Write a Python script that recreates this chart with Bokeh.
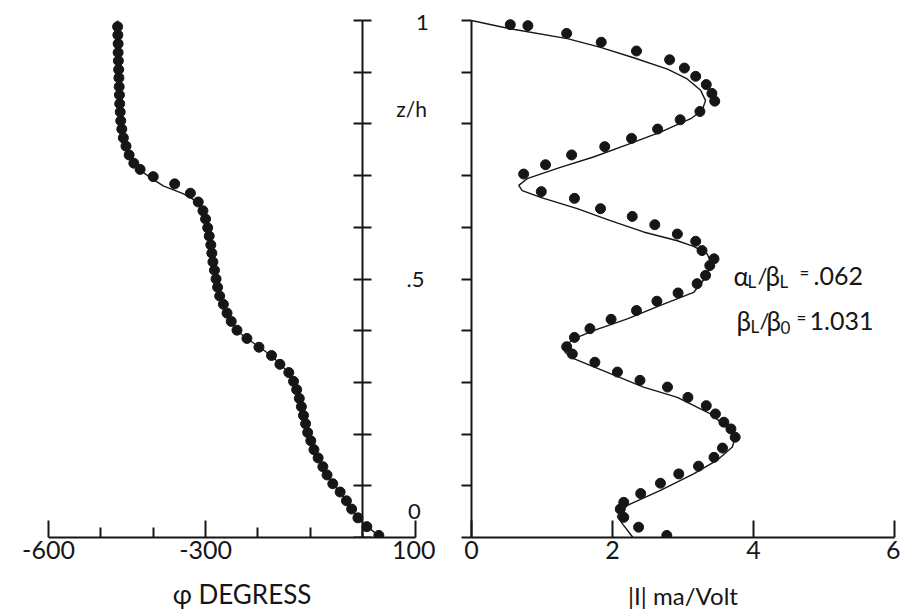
from bokeh.plotting import figure
from bokeh.models import Range1d, LinearAxis, FixedTicker, ColumnDataSource
from bokeh.layouts import row
from bokeh.embed import file_html
from bokeh.resources import INLINE
from bokeh.core.properties import value

# ---------------- data ----------------
# left panel: phase (degrees) versus z/h
phase_dot_z = [0.988, 0.972, 0.955, 0.938, 0.922, 0.905, 0.889, 0.872, 0.856, 0.839,
               0.823, 0.806, 0.790, 0.773, 0.757, 0.740, 0.724, 0.712, 0.698, 0.684,
               0.666, 0.649, 0.632, 0.616, 0.599, 0.583, 0.566, 0.550, 0.533, 0.517,
               0.500, 0.484, 0.467, 0.451, 0.434, 0.418, 0.401, 0.385, 0.368, 0.352,
               0.335, 0.319, 0.302, 0.286, 0.269, 0.253, 0.236, 0.220, 0.203, 0.187,
               0.170, 0.154, 0.137, 0.121, 0.104, 0.088, 0.071, 0.055, 0.038, 0.021,
               0.004]
phase_dot_deg = [-468, -467.5, -467, -467, -466.5, -466, -465.5, -465, -464.5, -464,
                 -463, -462, -460, -457, -452, -446, -437, -425, -400, -359,
                 -329, -314, -305, -300, -296, -293, -290, -288, -286, -283,
                 -280, -277, -273, -266, -259, -251, -240, -221, -198, -174,
                 -158, -141, -132, -126, -121, -117, -113, -109, -105, -99,
                 -93, -85, -76, -68, -57, -43, -31, -21, -9, 8,
                 31]
phase_curve_z = [1.0, 0.95, 0.88, 0.82, 0.79, 0.765, 0.745, 0.727, 0.710, 0.696,
                 0.680, 0.672, 0.665, 0.655, 0.645, 0.630, 0.607, 0.581, 0.555, 0.529,
                 0.504, 0.478, 0.455, 0.439, 0.420, 0.400, 0.384, 0.369, 0.352, 0.336,
                 0.317, 0.297, 0.278, 0.255, 0.226, 0.201, 0.175, 0.149, 0.123, 0.104,
                 0.085, 0.056, 0.033, 0.020, 0.0]
phase_curve_deg = [-468, -467, -465, -463, -460, -455, -447, -438, -425, -405,
                   -381, -360, -343, -325, -314, -305, -298, -293, -289, -285.5,
                   -280, -276, -270, -263, -254, -240, -220, -198, -175, -158,
                   -140, -130, -123, -117, -110, -104, -95, -82, -69, -57,
                   -41, -22, -5, 10, 35]

# right panel: |I| (ma/Volt) versus z/h
amp_dot_z = [0.992, 0.990, 0.975, 0.958, 0.941, 0.924, 0.908, 0.892, 0.876, 0.859,
             0.844, 0.824, 0.808, 0.790, 0.772, 0.756, 0.740, 0.721, 0.703, 0.669,
             0.656, 0.636, 0.621, 0.605, 0.587, 0.573, 0.555, 0.539, 0.526, 0.507,
             0.491, 0.473, 0.457, 0.439, 0.422, 0.404, 0.387, 0.369, 0.355, 0.339,
             0.320, 0.304, 0.291, 0.271, 0.255, 0.239, 0.223, 0.210, 0.194, 0.173,
             0.155, 0.138, 0.123, 0.105, 0.085, 0.068, 0.055, 0.039, 0.020, 0.004]
amp_dot_I = [0.55, 0.80, 1.35, 1.84, 2.34, 2.81, 3.02, 3.18, 3.33, 3.41,
             3.45, 3.24, 2.96, 2.64, 2.27, 1.89, 1.42, 1.05, 0.74, 0.99,
             1.46, 1.83, 2.28, 2.60, 2.92, 3.18, 3.27, 3.44, 3.38, 3.32,
             3.20, 2.93, 2.63, 2.34, 1.98, 1.68, 1.46, 1.35, 1.43, 1.75,
             2.07, 2.39, 2.78, 3.07, 3.33, 3.46, 3.58, 3.68, 3.74, 3.56,
             3.44, 3.22, 2.94, 2.68, 2.40, 2.16, 2.11, 2.16, 2.37, 2.77]
amp_curve_z = [1.0, 0.984, 0.965, 0.948, 0.928, 0.906, 0.887, 0.865, 0.845, 0.826,
               0.810, 0.784, 0.760, 0.736, 0.716, 0.694, 0.681, 0.671, 0.658, 0.636,
               0.613, 0.591, 0.574, 0.563, 0.549, 0.529, 0.503, 0.474, 0.449, 0.423,
               0.400, 0.384, 0.369, 0.358, 0.346, 0.317, 0.291, 0.271, 0.239, 0.213,
               0.194, 0.175, 0.149, 0.123, 0.091, 0.062, 0.055, 0.048, 0.040, 0.025,
               0.0]
amp_curve_I = [0.0, 0.55, 1.36, 1.83, 2.30, 2.78, 3.06, 3.25, 3.32, 3.27,
               3.11, 2.68, 2.21, 1.73, 1.26, 0.79, 0.67, 0.72, 0.98, 1.50,
               1.97, 2.44, 2.92, 3.15, 3.34, 3.41, 3.32, 3.15, 2.68, 2.21,
               1.73, 1.45, 1.31, 1.33, 1.45, 1.97, 2.44, 2.92, 3.39, 3.63,
               3.74, 3.70, 3.48, 3.15, 2.68, 2.21, 2.16, 2.10, 2.07, 2.15,
               2.29]

# axes / ticks / texts
phase_ticks = [-600, -300, 100]
phase_tick_labels = ["-600", "-300", "100"]
phase_minor_ticks = [-500, -400, -200, -100, 0]
amp_ticks = [0, 2, 4, 6]
zh_ticks = [i / 10 for i in range(11)]
zh_tick_labels = ["1", ".5", "0"]
phase_title = "\u03c6 DEGRESS"
amp_title = "|I| ma/Volt"
zh_title = "z/h"

# ---------------- layout (pixels of the picture) ----------------
FONT = "Lato"
INK = "#161616"
ORIGIN = 0                       # the figure row is drawn from the picture's corner
TOTAL_W, FIG_H = 900, 612
SPLIT = 435                      # x where the right figure starts
X_PHI_A, X_PHI_B = 48, 414.5     # x of phase -600 and 100
X_I0, X_I6 = 471, 894            # x of |I| 0 and 6
Y_Z0, Y_Z1 = 537, 20             # y of z/h 0 and 1
FRAME_TOP = ORIGIN

deg_px = (X_PHI_B - X_PHI_A) / (phase_ticks[-1] - phase_ticks[0])
z_px = Y_Z0 - Y_Z1
y_end = (Y_Z0 - FRAME_TOP) / z_px


def phi_at(px):
    return phase_ticks[0] + (px - X_PHI_A) / deg_px


def z_at(py):
    return (Y_Z0 - py) / z_px


def i_at(px):
    return (px - X_I0) * (amp_ticks[-1] - amp_ticks[0]) / (X_I6 - X_I0)


def base(fig):
    fig.grid.visible = False
    fig.outline_line_color = None
    fig.background_fill_color = "white"
    fig.border_fill_color = "white"


def style_axis(ax, label_size="25px"):
    ax.axis_line_color = INK
    ax.axis_line_width = 2
    ax.major_tick_line_color = INK
    ax.major_tick_line_width = 2
    ax.minor_tick_line_color = INK
    ax.minor_tick_line_width = 2
    ax.major_label_text_font = FONT
    ax.major_label_text_font_size = label_size
    ax.major_label_text_color = INK
    ax.axis_label_text_font = FONT
    ax.axis_label_text_font_style = "normal"
    ax.axis_label_text_color = INK


bottom_border = ORIGIN + FIG_H - Y_Z0

# ---------------- left figure ----------------
p1 = figure(width=SPLIT - ORIGIN, height=FIG_H,
            x_range=Range1d(phase_ticks[0], phi_at(SPLIT)),
            y_range=Range1d(0, y_end),
            output_backend="svg", toolbar_location=None,
            y_axis_location=None,
            min_border_left=X_PHI_A - ORIGIN, min_border_right=0,
            min_border_top=0, min_border_bottom=bottom_border)
base(p1)

xa = p1.xaxis[0]
style_axis(xa)
xa.bounds = (phase_ticks[0], phase_ticks[-1])
xa.ticker = FixedTicker(ticks=phase_ticks, minor_ticks=phase_minor_ticks)
xa.major_label_overrides = dict(zip(phase_ticks, phase_tick_labels))
xa.major_tick_in = 17
xa.major_tick_out = 0
xa.minor_tick_in = 10
xa.minor_tick_out = 0
xa.major_label_standoff = 3
xa.axis_label = phase_title
xa.axis_label_text_font_size = "26px"
xa.axis_label_standoff = 16

# vertical z/h axis drawn at phase = 0, ticks crossing it (no labels of its own)
za = LinearAxis(fixed_location=0, bounds=(0, 1),
                ticker=FixedTicker(ticks=[], minor_ticks=zh_ticks))
style_axis(za)
za.major_tick_in = 0
za.major_tick_out = 0
za.minor_tick_in = 9
za.minor_tick_out = 9
za.major_label_standoff = 0
p1.add_layout(za, "left")

p1.line(phase_curve_deg, phase_curve_z, line_color=INK, line_width=1.4)
p1.scatter(phase_dot_deg, phase_dot_z, size=10, fill_color=INK, line_color=INK)

# z/h tick labels and title, between the two panels
lab_px = {"1": (422, 22), ".5": (415, 279), "0": (414, 511)}
p1.text(x=[phi_at(lab_px[t][0]) for t in zh_tick_labels],
        y=[z_at(lab_px[t][1]) for t in zh_tick_labels],
        text=zh_tick_labels, text_font=value(FONT), text_font_size=value("22px"),
        text_color=INK, text_align="center", text_baseline="middle")
p1.text(x=[phi_at(411)], y=[z_at(108)], text=[zh_title], text_font=value(FONT),
        text_font_size=value("21px"), text_color=INK,
        text_align="center", text_baseline="middle")

# ---------------- right figure ----------------
p2 = figure(width=TOTAL_W - (SPLIT - ORIGIN), height=FIG_H,
            x_range=Range1d(amp_ticks[0], amp_ticks[-1]),
            y_range=Range1d(0, y_end),
            output_backend="svg", toolbar_location=None,
            min_border_left=X_I0 - SPLIT, min_border_right=ORIGIN + TOTAL_W - X_I6,
            min_border_top=0, min_border_bottom=bottom_border)
base(p2)

xb = p2.xaxis[0]
style_axis(xb)
xb.bounds = (amp_ticks[0], amp_ticks[-1])
xb.ticker = FixedTicker(ticks=amp_ticks)
xb.major_tick_in = 17
xb.major_tick_out = 0
xb.minor_tick_in = 0
xb.minor_tick_out = 0
xb.major_label_standoff = 3
xb.axis_label = amp_title
xb.axis_label_text_font_size = "24px"
xb.axis_label_standoff = 19

yb = p2.yaxis[0]
style_axis(yb)
yb.bounds = (0, 1)
yb.ticker = FixedTicker(ticks=[], minor_ticks=zh_ticks)
yb.major_tick_in = 0
yb.major_tick_out = 0
yb.minor_tick_in = 0
yb.minor_tick_out = 10
yb.major_label_standoff = 0

p2.line(amp_curve_I, amp_curve_z, line_color=INK, line_width=1.4)
p2.scatter(amp_dot_I, amp_dot_z, size=10, fill_color=INK, line_color=INK)

# parameter annotation with subscripts: (text, x, baseline y, size)
pieces = [
    ("\u03b1", 733, 275, "26px"), ("L", 747, 281, "17px"), ("/", 757, 275, "22px"),
    ("\u03b2", 765, 275, "26px"), ("L", 779, 281, "17px"), ("=", 799, 272, "17px"),
    (".062", 813, 275, "25px"),
    ("\u03b2", 736, 320, "26px"), ("L", 750, 326, "17px"), ("/", 759, 320, "22px"),
    ("\u03b2", 766, 320, "26px"), ("0", 780, 327, "17px"), ("=", 796, 317, "17px"),
    ("1.031", 809, 320, "25px"),
]
src = ColumnDataSource(dict(
    x=[i_at(pc[1]) for pc in pieces],
    y=[z_at(pc[2]) for pc in pieces],
    t=[pc[0] for pc in pieces],
    fs=[pc[3] for pc in pieces],
))
p2.text(x="x", y="y", text="t", source=src, text_font=value(FONT),
        text_font_size="fs", text_color=INK,
        text_align="left", text_baseline="alphabetic")

layout = row(p1, p2)
open("out.html", "w").write(file_html(layout, INLINE))
